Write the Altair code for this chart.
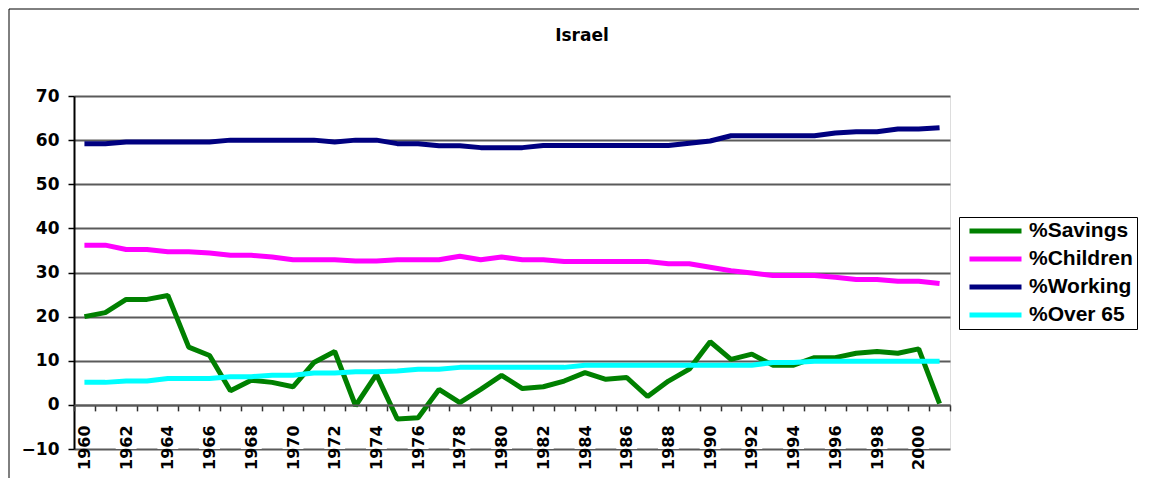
import altair as alt
import pandas as pd

years = list(range(1960, 2002))

savings = [20.0, 20.9, 23.9, 23.9, 24.8, 13.1, 11.2, 3.2, 5.6, 5.1,
           4.1, 9.6, 12.1, -0.2, 6.9, -3.2, -2.9, 3.5, 0.5, 3.5,
           6.7, 3.7, 4.1, 5.4, 7.3, 5.8, 6.2, 1.9, 5.4, 8.1,
           14.3, 10.3, 11.5, 9.0, 9.0, 10.7, 10.7, 11.7, 12.1, 11.7,
           12.7, 0.3]
children = [36.2, 36.2, 35.2, 35.2, 34.7, 34.7, 34.4, 33.9, 33.9, 33.5,
            32.9, 32.9, 32.9, 32.6, 32.6, 32.9, 32.9, 32.9, 33.7, 32.9,
            33.5, 32.9, 32.9, 32.5, 32.5, 32.5, 32.5, 32.5, 32.0, 32.0,
            31.2, 30.4, 29.9, 29.3, 29.3, 29.3, 28.9, 28.4, 28.4, 28.0,
            28.0, 27.5]
working = [59.2, 59.2, 59.6, 59.6, 59.6, 59.6, 59.6, 60.0, 60.0, 60.0,
           60.0, 60.0, 59.6, 60.0, 60.0, 59.2, 59.2, 58.7, 58.7, 58.3,
           58.3, 58.3, 58.8, 58.8, 58.8, 58.8, 58.8, 58.8, 58.8, 59.3,
           59.8, 61.0, 61.0, 61.0, 61.0, 61.0, 61.6, 61.9, 61.9, 62.5,
           62.5, 62.8]
over65 = [5.1, 5.1, 5.4, 5.4, 6.0, 6.0, 6.0, 6.4, 6.4, 6.7,
          6.7, 7.2, 7.2, 7.5, 7.5, 7.7, 8.1, 8.1, 8.5, 8.5,
          8.5, 8.5, 8.5, 8.5, 9.0, 9.0, 9.0, 9.0, 9.0, 9.0,
          9.0, 9.0, 9.0, 9.6, 9.6, 9.9, 9.9, 9.9, 9.9, 9.9,
          9.9, 9.9]

series_names = ["%Savings", "%Children", "%Working", "%Over 65"]
series_colors = ["#008000", "#FF00FF", "#000080", "#00FFFF"]
series_values = [savings, children, working, over65]

rows = []
for name, vals in zip(series_names, series_values):
    for y, v in zip(years, vals):
        rows.append({"year": y, "value": v, "series": name})
df = pd.DataFrame(rows)

W, H = 876, 353
zero_offset = -H / 8.0

y_scale = alt.Scale(domain=[-10, 70], nice=False, zero=False)
x_scale = alt.Scale(type="band", paddingInner=0, paddingOuter=0)

y_axis = alt.Axis(
    values=list(range(-10, 80, 10)), title=None, grid=True,
    gridColor="#5a5a5a", gridWidth=2, domainColor="#000000", domainWidth=2,
    tickColor="#000000", tickSize=6, tickWidth=1.5,
    labelFont="DejaVu Sans", labelFontWeight="bold", labelFontSize=17,
    labelColor="#000000", labelPadding=9,
)
x_axis = alt.Axis(
    title=None, labelAngle=-90, tickBand="extent", grid=False,
    labelExpr="datum.value % 2 == 0 ? datum.label : ''",
    labelOverlap=False, offset=zero_offset,
    domainColor="#5a5a5a", domainWidth=2, tickColor="#303030",
    tickWidth=1.5, tickSize=6, labelPadding=14,
    labelFont="DejaVu Sans", labelFontWeight="bold", labelFontSize=16,
    labelColor="#000000", zindex=1,
)

boxes = alt.Chart(pd.DataFrame({"year": years})).transform_filter(
    "datum.year % 2 == 0 && datum.year > 1960"
).mark_rect(color="white").encode(
    x=alt.X("year:O", scale=x_scale, axis=x_axis),
    y=alt.datum(-3.6, scale=y_scale),
    y2=alt.datum(-10),
)

lines = alt.Chart(df).mark_line(strokeWidth=5, strokeJoin="bevel", strokeCap="butt").encode(
    x=alt.X("year:O", scale=x_scale, axis=x_axis, bandPosition=0.5),
    y=alt.Y("value:Q", scale=y_scale, axis=y_axis),
    color=alt.Color(
        "series:N",
        scale=alt.Scale(domain=series_names, range=series_colors),
        sort=series_names,
        legend=alt.Legend(
            title=None, orient="none", legendX=885, legendY=121,
            padding=4, symbolOffset=4, strokeColor="#000000", fillColor="#ffffff",
            symbolType="stroke", symbolStrokeWidth=5, symbolSize=2704,
            clipHeight=20, rowPadding=7,
            labelFont="Liberation Sans", labelFontWeight="bold",
            labelFontSize=21, labelColor="#000000", labelOffset=5,
            labelLimit=220,
        ),
    ),
    order=alt.Order("year:O"),
)

one = alt.Data(values=[{"k": 1}])
frame_left = alt.Chart(one).mark_rule(color="#000000", strokeWidth=1).encode(
    x=alt.value(-65), y=alt.value(-87), y2=alt.value(382)
)
frame_top = alt.Chart(one).mark_rule(color="#000000", strokeWidth=1).encode(
    x=alt.value(-65), x2=alt.value(1065), y=alt.value(-87)
)

chart = alt.layer(boxes, lines, frame_left, frame_top).properties(
    width=W, height=H,
    title=alt.Title("Israel", font="DejaVu Sans", fontSize=17, fontWeight="bold",
                    anchor="middle", frame="group", dx=70, offset=-36, color="#000000"),
    autosize=alt.AutoSizeParams(type="none"),
    padding={"left": 66, "top": 88, "right": 190, "bottom": 30},
).configure_view(
    fill="#C0C0C0", stroke="#808080", strokeWidth=2
).configure(background="white")

chart.save("out.html", embed_options={"renderer": "svg", "actions": False})
